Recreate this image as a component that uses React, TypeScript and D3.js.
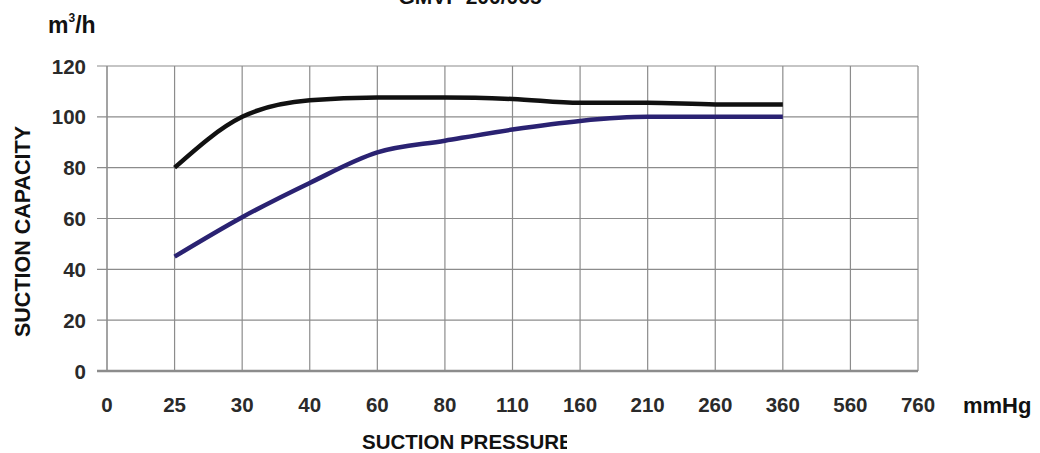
import React from "react";
import * as d3 from "d3";

const categories = ["0", "25", "30", "40", "60", "80", "110", "160", "210", "260", "360", "560", "760"];
const yTicks = [0, 20, 40, 60, 80, 100, 120];
const seriesCategories = ["25", "30", "40", "60", "80", "110", "160", "210", "260", "360"];
const blackValues = [80, 100, 106.5, 107.6, 107.6, 107, 105.5, 105.5, 104.9, 104.9];
const blueValues = [45, 60.5, 74, 86, 90.6, 95, 98.4, 100, 100, 100];

const W = 1040;
const H = 453;
const FONT = "Arial, 'Liberation Sans', Helvetica, sans-serif";

export default function App() {
  const x = d3.scalePoint<string>().domain(categories).range([107, 918]);
  const y = d3.scaleLinear().domain([0, 120]).range([371, 66]);

  const line = d3
    .line<number>()
    .x((_, i) => x(seriesCategories[i]) as number)
    .y((d) => y(d))
    .curve(d3.curveMonotoneX);

  return (
    <svg
      width={W}
      height={H}
      style={{ position: "absolute", left: 0, top: 0, background: "#fff" }}
      fontFamily={FONT}
    >
      <defs>
        <clipPath id="xtitleclip">
          <rect x={300} y={420} width={267} height={33} />
        </clipPath>
      </defs>
      <rect x={0} y={0} width={W} height={H} fill="#fff" />
      {/* title cut off at the top */}
      <text x={470} y={4} textAnchor="middle" fontWeight="bold" fontSize={21} fill="#111">
        GMVP 200/065
      </text>
      {/* unit */}
      <text x={48} y={33} fontWeight="bold" fontSize={23} fill="#111">
        m<tspan fontSize={12} dy={-11}>3</tspan>
        <tspan dy={11}>/h</tspan>
      </text>

      {/* horizontal gridlines */}
      {yTicks.map((t) => (
        <line
          key={"h" + t}
          x1={97}
          x2={918}
          y1={y(t)}
          y2={y(t)}
          stroke="#8c8c8c"
          strokeWidth={t === 0 ? 2.5 : 1.2}
        />
      ))}
      {/* vertical gridlines */}
      {categories.map((c) => (
        <line
          key={"v" + c}
          x1={x(c)}
          x2={x(c)}
          y1={y(120)}
          y2={y(0)}
          stroke="#8c8c8c"
          strokeWidth={c === "0" ? 1.6 : 1.2}
        />
      ))}

      {/* y tick labels */}
      {yTicks.map((t) => (
        <text
          key={"yl" + t}
          x={86}
          y={y(t) + 7.5}
          textAnchor="end"
          fontWeight="bold"
          fontSize={20.5}
          fill="#2a2a2a"
        >
          {t}
        </text>
      ))}
      {/* x tick labels */}
      {categories.map((c) => (
        <text
          key={"xl" + c}
          x={x(c)}
          y={412}
          textAnchor="middle"
          fontWeight="bold"
          fontSize={20.5}
          fill="#2a2a2a"
        >
          {c}
        </text>
      ))}
      <text x={963} y={413} fontWeight="bold" fontSize={22} fill="#111">
        mmHg
      </text>

      {/* axis titles */}
      <text
        transform={`translate(30, 231.5) rotate(-90)`}
        textAnchor="middle"
        fontWeight="bold"
        fontSize={21.5}
        fill="#111"
      >
        SUCTION CAPACITY
      </text>
      <g clipPath="url(#xtitleclip)">
        <text x={362} y={448.5} fontWeight="bold" fontSize={20.5} fill="#111">
          SUCTION PRESSURE
        </text>
      </g>

      {/* series */}
      <path d={line(blueValues) || ""} fill="none" stroke="#2a2272" strokeWidth={4.5} strokeLinejoin="round" />
      <path d={line(blackValues) || ""} fill="none" stroke="#111" strokeWidth={4.5} strokeLinejoin="round" />
    </svg>
  );
}
